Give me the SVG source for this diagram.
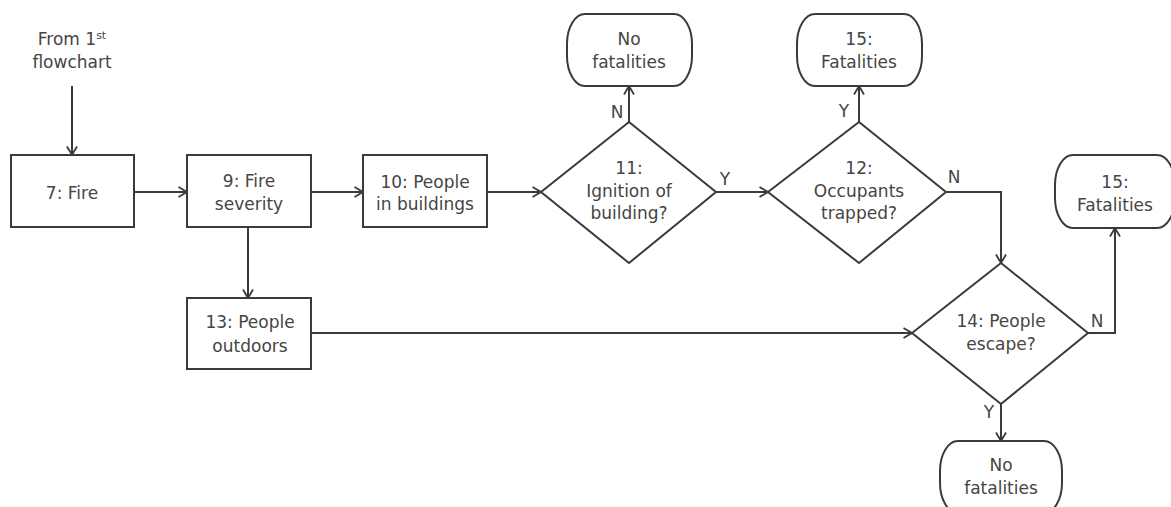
<svg xmlns="http://www.w3.org/2000/svg" width="1171" height="507" viewBox="0 0 1171 507">
  <style>
    .shape { fill: #ffffff; stroke: #3a3a3a; stroke-width: 2; }
    .edge { fill: none; stroke: #3a3a3a; stroke-width: 2; }
    text { font-family: "DejaVu Sans", Verdana, sans-serif; font-size: 17px; fill: #454545; text-anchor: middle; }
  </style>
  <defs>
    <marker id="arrow" viewBox="0 0 10 12" refX="9.5" refY="6" markerWidth="10" markerHeight="12" markerUnits="userSpaceOnUse" orient="auto">
      <path d="M1,1 L9.5,6 L1,11" fill="none" stroke="#3a3a3a" stroke-width="1.8"/>
    </marker>
  </defs>
  <rect width="1171" height="507" fill="#ffffff"/>

  <!-- connectors -->
  <g id="connectors">
    <path class="edge" d="M72,86 V155" marker-end="url(#arrow)"/>
    <path class="edge" d="M134,192 H187" marker-end="url(#arrow)"/>
    <path class="edge" d="M311,192 H363" marker-end="url(#arrow)"/>
    <path class="edge" d="M487,192 H541" marker-end="url(#arrow)"/>
    <path class="edge" d="M629,122 V86" marker-end="url(#arrow)"/>
    <path class="edge" d="M716,192 H768" marker-end="url(#arrow)"/>
    <path class="edge" d="M859,122 V86" marker-end="url(#arrow)"/>
    <path class="edge" d="M946,192 H1001 V263" marker-end="url(#arrow)"/>
    <path class="edge" d="M248,227 V298" marker-end="url(#arrow)"/>
    <path class="edge" d="M311,333 H912" marker-end="url(#arrow)"/>
    <path class="edge" d="M1088,333 H1115 V228" marker-end="url(#arrow)"/>
    <path class="edge" d="M1001,404 V441" marker-end="url(#arrow)"/>
    <text x="617" y="118">N</text>
    <text x="725" y="185">Y</text>
    <text x="844" y="117">Y</text>
    <text x="954" y="183">N</text>
    <text x="1097" y="327">N</text>
    <text x="989" y="418">Y</text>
  </g>

  <!-- entry point -->
  <g id="from-first">
    <text x="72" y="45">From 1<tspan font-size="11" dy="-6">st</tspan></text>
    <text x="72" y="68">flowchart</text>
  </g>

  <g id="n7">
    <rect class="shape" x="11" y="155" width="123" height="72"/>
    <text x="72" y="199">7: Fire</text>
  </g>

  <g id="n9">
    <rect class="shape" x="187" y="155" width="124" height="72"/>
    <text x="249" y="187">9: Fire</text>
    <text x="249" y="210">severity</text>
  </g>

  <g id="n10">
    <rect class="shape" x="363" y="155" width="124" height="72"/>
    <text x="425" y="188">10: People</text>
    <text x="425" y="210">in buildings</text>
  </g>

  <g id="n11">
    <polygon class="shape" points="541,192 629,122 716,192 629,263"/>
    <text x="629" y="174">11:</text>
    <text x="629" y="197">Ignition of</text>
    <text x="629" y="219">building?</text>
  </g>

  <g id="n11-no">
    <rect class="shape" x="567" y="14" width="125" height="72" rx="18" ry="30"/>
    <text x="629" y="45">No</text>
    <text x="629" y="68">fatalities</text>
  </g>

  <g id="n12">
    <polygon class="shape" points="768,192 859,122 946,192 859,263"/>
    <text x="859" y="174">12:</text>
    <text x="859" y="197">Occupants</text>
    <text x="859" y="219">trapped?</text>
  </g>

  <g id="n15-top">
    <rect class="shape" x="797" y="14" width="125" height="72" rx="18" ry="30"/>
    <text x="859" y="45">15:</text>
    <text x="859" y="68">Fatalities</text>
  </g>

  <g id="n13">
    <rect class="shape" x="187" y="298" width="124" height="71"/>
    <text x="250" y="328">13: People</text>
    <text x="250" y="352">outdoors</text>
  </g>

  <g id="n14">
    <polygon class="shape" points="912,333 1001,263 1088,333 1001,404"/>
    <text x="1001" y="327">14: People</text>
    <text x="1001" y="350">escape?</text>
  </g>

  <g id="n15-right">
    <rect class="shape" x="1055" y="155" width="120" height="73" rx="18" ry="30"/>
    <text x="1115" y="188">15:</text>
    <text x="1115" y="211">Fatalities</text>
  </g>

  <g id="n14-no">
    <rect class="shape" x="940" y="441" width="122" height="72" rx="18" ry="30"/>
    <text x="1001" y="471">No</text>
    <text x="1001" y="494">fatalities</text>
  </g>
</svg>
